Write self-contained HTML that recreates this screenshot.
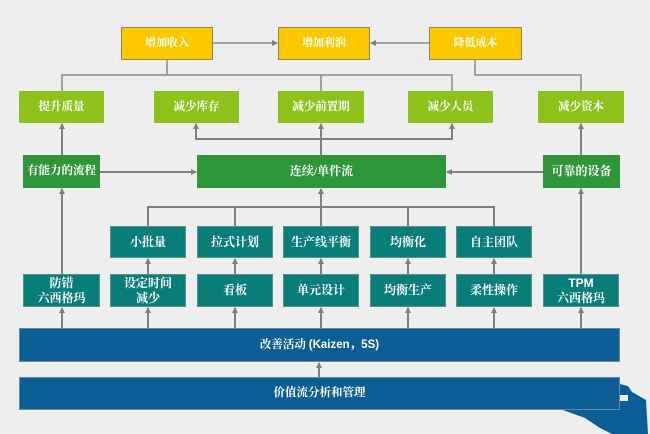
<!DOCTYPE html>
<html><head><meta charset="utf-8">
<style>
html,body{margin:0;padding:0;}
body{width:650px;height:434px;background:#eeeeee;position:relative;overflow:hidden;font-family:"Liberation Serif","Noto Serif CJK SC",serif;}
.b{position:absolute;display:flex;align-items:center;justify-content:center;text-align:center;color:#fff;font-weight:bold;box-sizing:border-box;line-height:1.25;white-space:nowrap;}
.y{background:#fcc800;border:1.5px solid #9a8050;font-size:11px;}
.lg{background:#8cc21a;font-size:11.5px;}
.dg{background:#2e9638;font-size:12px;}
.t{background:#097d77;font-size:12px;border:1px solid #5a8f8c;}
.bl{background:#0b5d96;font-size:11.5px;border:1px solid #6b8aa0;}
.s{font-family:"Liberation Sans","Noto Sans CJK SC",sans-serif;}
svg{position:absolute;left:0;top:0;}
</style></head><body>
<svg width="650" height="434" viewBox="0 0 650 434">
<defs><marker id="a" markerWidth="6" markerHeight="6" refX="5" refY="3" orient="auto" markerUnits="userSpaceOnUse"><path d="M0,0 L6,3 L0,6 z" fill="#7f7f7f"/></marker></defs>
<g stroke="#8a8a8a" stroke-width="1.5" fill="none">
<line x1="213" y1="43" x2="277" y2="43" marker-end="url(#a)"/>
<line x1="429" y1="43" x2="371" y2="43" marker-end="url(#a)"/>
<polyline points="167,60 167,75"/>
<polyline points="62,91 62,75 452,75 452,91"/>
<line x1="321" y1="75" x2="321" y2="91"/>
<polyline points="475,60 475,75 581,75 581,91"/>
</g>
<g stroke="#7f7f7f" stroke-width="2" fill="none">
<line x1="62" y1="155" x2="62" y2="124" marker-end="url(#a)"/>
<line x1="581" y1="155" x2="581" y2="124" marker-end="url(#a)"/>
<line x1="321" y1="155" x2="321" y2="124" marker-end="url(#a)"/>
<polyline points="196,124 196,139 452,139 452,124" marker-end="url(#a)"/>
<line x1="196" y1="139" x2="196" y2="124" marker-end="url(#a)"/>
<line x1="100" y1="172" x2="196" y2="172" marker-end="url(#a)"/>
<line x1="543" y1="172" x2="447" y2="172" marker-end="url(#a)"/>
<polyline points="148,226 148,207 494,207 494,226"/>
<line x1="235" y1="207" x2="235" y2="226"/>
<line x1="408" y1="207" x2="408" y2="226"/>
<line x1="321" y1="226" x2="321" y2="189" marker-end="url(#a)"/>
<line x1="148" y1="274" x2="148" y2="259" marker-end="url(#a)"/>
<line x1="235" y1="274" x2="235" y2="259" marker-end="url(#a)"/>
<line x1="321" y1="274" x2="321" y2="259" marker-end="url(#a)"/>
<line x1="408" y1="274" x2="408" y2="259" marker-end="url(#a)"/>
<line x1="494" y1="274" x2="494" y2="259" marker-end="url(#a)"/>
<line x1="62" y1="274" x2="62" y2="189" marker-end="url(#a)"/>
<line x1="581" y1="274" x2="581" y2="189" marker-end="url(#a)"/>
<line x1="62" y1="328" x2="62" y2="308" marker-end="url(#a)"/>
<line x1="148" y1="328" x2="148" y2="308" marker-end="url(#a)"/>
<line x1="235" y1="328" x2="235" y2="308" marker-end="url(#a)"/>
<line x1="321" y1="328" x2="321" y2="308" marker-end="url(#a)"/>
<line x1="408" y1="328" x2="408" y2="308" marker-end="url(#a)"/>
<line x1="494" y1="328" x2="494" y2="308" marker-end="url(#a)"/>
<line x1="581" y1="328" x2="581" y2="308" marker-end="url(#a)"/>
<line x1="319" y1="377" x2="319" y2="363" marker-end="url(#a)"/>
</g>
<polygon points="560,409 585,418 600,428 612,434 648,434 646,400 632,392 628,386 620,384 620,409" fill="#0b5d96"/>
<rect x="580" y="398" width="16" height="5" fill="#eeeeee"/>
<rect x="620" y="395" width="8" height="6" fill="#eeeeee"/>
</svg>

<div class="b y" style="left:121px;top:27px;width:92px;height:33px;">增加收入</div>
<div class="b y" style="left:278px;top:27px;width:92px;height:33px;">增加利润</div>
<div class="b y" style="left:429px;top:27px;width:93px;height:33px;">降低成本</div>

<div class="b lg" style="left:19px;top:91px;width:85px;height:32px;">提升质量</div>
<div class="b lg" style="left:154px;top:91px;width:85px;height:32px;">减少库存</div>
<div class="b lg" style="left:278px;top:91px;width:86px;height:32px;">减少前置期</div>
<div class="b lg" style="left:408px;top:91px;width:85px;height:32px;">减少人员</div>
<div class="b lg" style="left:538px;top:91px;width:86px;height:32px;">减少资本</div>

<div class="b dg" style="left:23px;top:155px;width:77px;height:33px;font-size:11.5px;">有能力的流程</div>
<div class="b dg" style="left:197px;top:155px;width:249px;height:33px;">连续/单件流</div>
<div class="b dg" style="left:543px;top:155px;width:77px;height:33px;">可靠的设备</div>

<div class="b t" style="left:110px;top:226px;width:76px;height:32px;">小批量</div>
<div class="b t" style="left:197px;top:226px;width:76px;height:32px;">拉式计划</div>
<div class="b t" style="left:283px;top:226px;width:76px;height:32px;">生产线平衡</div>
<div class="b t" style="left:370px;top:226px;width:76px;height:32px;">均衡化</div>
<div class="b t" style="left:456px;top:226px;width:76px;height:32px;">自主团队</div>

<div class="b t" style="left:23px;top:274px;width:77px;height:33px;">防错<br>六西格玛</div>
<div class="b t" style="left:110px;top:274px;width:76px;height:33px;">设定时间<br>减少</div>
<div class="b t" style="left:197px;top:274px;width:76px;height:33px;">看板</div>
<div class="b t" style="left:283px;top:274px;width:76px;height:33px;">单元设计</div>
<div class="b t" style="left:370px;top:274px;width:76px;height:33px;">均衡生产</div>
<div class="b t" style="left:456px;top:274px;width:76px;height:33px;">柔性操作</div>
<div class="b t" style="left:543px;top:274px;width:76px;height:33px;"><span><span class="s">TPM</span><br>六西格玛</span></div>

<div class="b bl" style="left:19px;top:328px;width:601px;height:34px;">改善活动&nbsp;<span class="s">(Kaizen，5S)</span></div>
<div class="b bl" style="left:19px;top:377px;width:601px;height:33px;">价值流分析和管理</div>
</body></html>
